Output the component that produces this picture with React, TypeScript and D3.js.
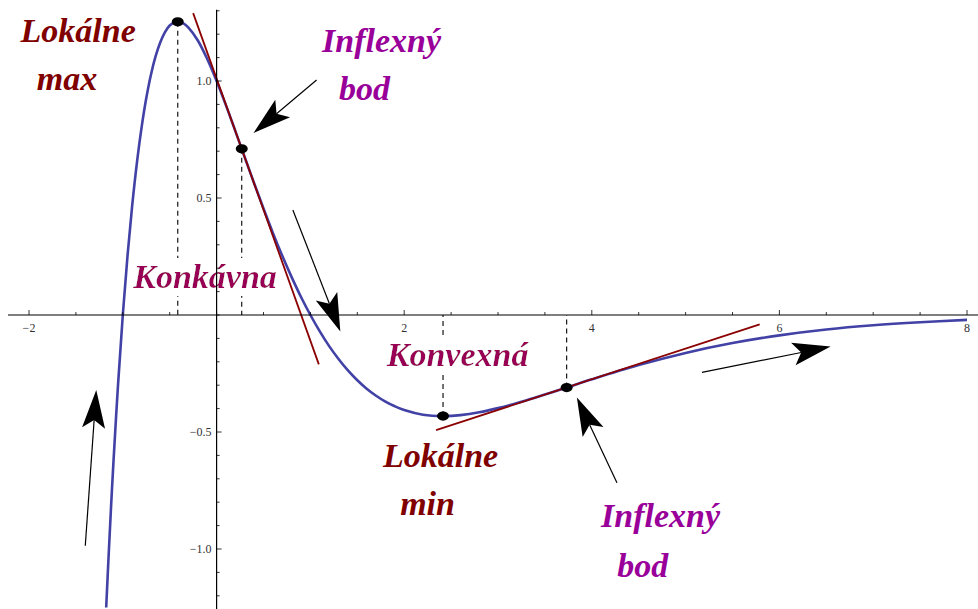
import React from "react";
import * as d3 from "d3";

const W = 978;
const H = 609;

// curve samples (x, y)
const curveX = [-1.177, -1.15, -1.125, -1.1, -1.05, -1.0, -0.95, -0.9, -0.85, -0.8, -0.75, -0.7, -0.65, -0.6, -0.55, -0.5, -0.45, -0.414, -0.35, -0.3, -0.2, -0.1, 0, 0.1, 0.2, 0.268, 0.3, 0.4, 0.5, 0.6, 0.7, 0.8, 0.9, 1.0, 1.1, 1.2, 1.3, 1.4, 1.5, 1.6, 1.7, 1.8, 1.9, 2.0, 2.2, 2.414, 2.6, 2.8, 3.0, 3.25, 3.5, 3.732, 4.0, 4.5, 5.0, 5.5, 6.0, 6.5, 7.0, 7.5, 8.0];
const curveY = [-1.25, -1.019, -0.818, -0.631, -0.293, 0, 0.252, 0.467, 0.649, 0.801, 0.926, 1.027, 1.106, 1.166, 1.209, 1.237, 1.251, 1.253, 1.245, 1.228, 1.173, 1.094, 1.0, 0.896, 0.786, 0.71, 0.674, 0.563, 0.455, 0.351, 0.253, 0.162, 0.077, 0, -0.07, -0.133, -0.188, -0.237, -0.279, -0.315, -0.345, -0.37, -0.39, -0.406, -0.426, -0.432, -0.428, -0.416, -0.398, -0.371, -0.34, -0.31, -0.275, -0.214, -0.162, -0.12, -0.087, -0.062, -0.044, -0.031, -0.021];

// key points: extremes and inflections
const keyX = [-0.414, 0.268, 2.414, 3.732];
const keyY = [1.253, 0.71, -0.432, -0.31];

// tangent lines at the inflection points [x0, y0, x1, y1]
const tangents = [
  [-0.25, 1.29, 1.09, -0.211],
  [2.34, -0.492, 5.79, -0.04],
];

// arrows [tailX, tailY, tipX, tipY] in data units
const arrows = [
  [1.066, 1.004, 0.394, 0.778],
  [0.813, 0.449, 1.319, -0.071],
  [-1.4, -0.986, -1.283, -0.321],
  [5.174, -0.245, 6.546, -0.135],
  [4.268, -0.717, 3.841, -0.353],
];

// labels: text, x, y (baseline, data units), kind
const labelText = ["Lokálne", "max", "Inflexný", "bod", "Konkávna", "Konvexná", "Lokálne", "min", "Inflexný", "bod"];
const labelX = [-1.476, -1.594, 1.759, 1.578, -0.123, 2.569, 2.388, 2.249, 4.733, 4.542];
const labelY = [1.167, 0.962, 1.124, 0.919, 0.115, -0.218, -0.65, -0.855, -0.906, -1.12];
const labelKind = ["ext", "ext", "inf", "inf", "conc", "conc", "ext", "ext", "inf", "inf"];

const xMajor = [-2, 2, 4, 6, 8];
const yMajor = [-1, -0.5, 0.5, 1];

const kindColor: Record<string, string> = {
  ext: "#800000",
  inf: "#990099",
  conc: "#990055",
};

export default function App() {
  const x = d3.scaleLinear().domain([-2, 8]).range([29, 967]);
  const y = d3.scaleLinear().domain([0, 1]).range([315, 81]);

  const pts = curveX.map((v, i) => [v, curveY[i]] as [number, number]);
  const line = d3
    .line<[number, number]>()
    .x((d) => x(d[0]))
    .y((d) => y(d[1]))
    .curve(d3.curveCatmullRom.alpha(0.5));

  const xMinor = d3.range(-2, 8.01, 0.5);
  const yMinor = d3.range(-12, 14, 1).map((v) => v / 10);

  const fmt = (v: number) => (v < 0 ? "\u2212" : "") + Math.abs(v).toString();
  const fmtY = (v: number) => (v < 0 ? "\u2212" : "") + Math.abs(v).toFixed(1);

  const arrowPath = (a: number[]) => {
    const x1 = x(a[0]), y1 = y(a[1]), x2 = x(a[2]), y2 = y(a[3]);
    const len = Math.hypot(x2 - x1, y2 - y1);
    const ux = (x2 - x1) / len, uy = (y2 - y1) / len;
    const nx = -uy, ny = ux;
    const L = 38, Wd = 11.5, N = 8;
    const bx = x2 - ux * L, by = y2 - uy * L;
    const head = `M${x2},${y2}L${bx + nx * Wd},${by + ny * Wd}L${x2 - ux * (L - N)},${y2 - uy * (L - N)}L${bx - nx * Wd},${by - ny * Wd}Z`;
    const shaft = `M${x1},${y1}L${x2 - ux * (L - N)},${y2 - uy * (L - N)}`;
    return { head, shaft };
  };

  return (
    <svg
      width={W}
      height={H}
      style={{ position: "fixed", left: 0, top: 0, background: "#fff" }}
    >
      <defs>
        <filter id="bgWhite" x="0" y="0" width="1" height="1">
          <feFlood floodColor="white" />
          <feComposite in="SourceGraphic" />
        </filter>
      </defs>

      {/* dashed drop lines */}
      {keyX.map((kx, i) => (
        <line
          key={"d" + i}
          x1={x(kx)}
          x2={x(kx)}
          y1={y(keyY[i])}
          y2={y(0)}
          stroke="#000"
          strokeWidth={1.1}
          strokeDasharray="5,4"
        />
      ))}

      {/* curve */}
      <path d={line(pts) || ""} fill="none" stroke="#4141a6" strokeWidth={2.6} />

      {/* tangents */}
      {tangents.map((t, i) => (
        <line
          key={"t" + i}
          x1={x(t[0])}
          y1={y(t[1])}
          x2={x(t[2])}
          y2={y(t[3])}
          stroke="#8b0000"
          strokeWidth={1.8}
        />
      ))}

      {/* labels */}
      {labelText.map((t, i) => (
        <text
          key={"l" + i}
          x={x(labelX[i])}
          y={y(labelY[i])}
          textAnchor="middle"
          fontFamily="'Liberation Serif', 'Times New Roman', serif"
          fontWeight="bold"
          fontStyle="italic"
          fontSize={34}
          fill={kindColor[labelKind[i]]}
          filter={labelKind[i] === "conc" ? "url(#bgWhite)" : undefined}
        >
          {t}
        </text>
      ))}

      {/* x axis */}
      <line x1={8} x2={978} y1={y(0)} y2={y(0)} stroke="#000" strokeWidth={1.2} />
      {xMinor.map((v, i) => (
        <line
          key={"xm" + i}
          x1={x(v)}
          x2={x(v)}
          y1={y(0)}
          y2={y(0) - (xMajor.includes(v) ? 5 : 3)}
          stroke="#000"
          strokeWidth={0.8}
        />
      ))}
      {xMajor.map((v) => (
        <text
          key={"xl" + v}
          x={x(v)}
          y={y(0) + 17}
          textAnchor="middle"
          fontFamily="'Liberation Serif', 'Times New Roman', serif"
          fontSize={12}
          fill="#333"
        >
          {fmt(v)}
        </text>
      ))}

      {/* y axis */}
      <line x1={x(0)} x2={x(0)} y1={y(1.305)} y2={H} stroke="#000" strokeWidth={1.2} />
      {yMinor.map((v, i) => (
        <line
          key={"ym" + i}
          x1={x(0)}
          x2={x(0) + (yMajor.some((m) => Math.abs(m - v) < 1e-6) ? 5 : 3)}
          y1={y(v)}
          y2={y(v)}
          stroke="#000"
          strokeWidth={0.8}
        />
      ))}
      {yMajor.map((v) => (
        <text
          key={"yl" + v}
          x={x(0) - 5}
          y={y(v) + 4}
          textAnchor="end"
          fontFamily="'Liberation Serif', 'Times New Roman', serif"
          fontSize={12}
          fill="#333"
        >
          {fmtY(v)}
        </text>
      ))}

      {/* key points */}
      {keyX.map((kx, i) => (
        <ellipse key={"p" + i} cx={x(kx)} cy={y(keyY[i])} rx={6} ry={4.6} fill="#000" />
      ))}

      {/* arrows */}
      {arrows.map((a, i) => {
        const p = arrowPath(a);
        return (
          <g key={"a" + i}>
            <path d={p.shaft} stroke="#000" strokeWidth={1.2} fill="none" />
            <path d={p.head} fill="#000" />
          </g>
        );
      })}
    </svg>
  );
}
